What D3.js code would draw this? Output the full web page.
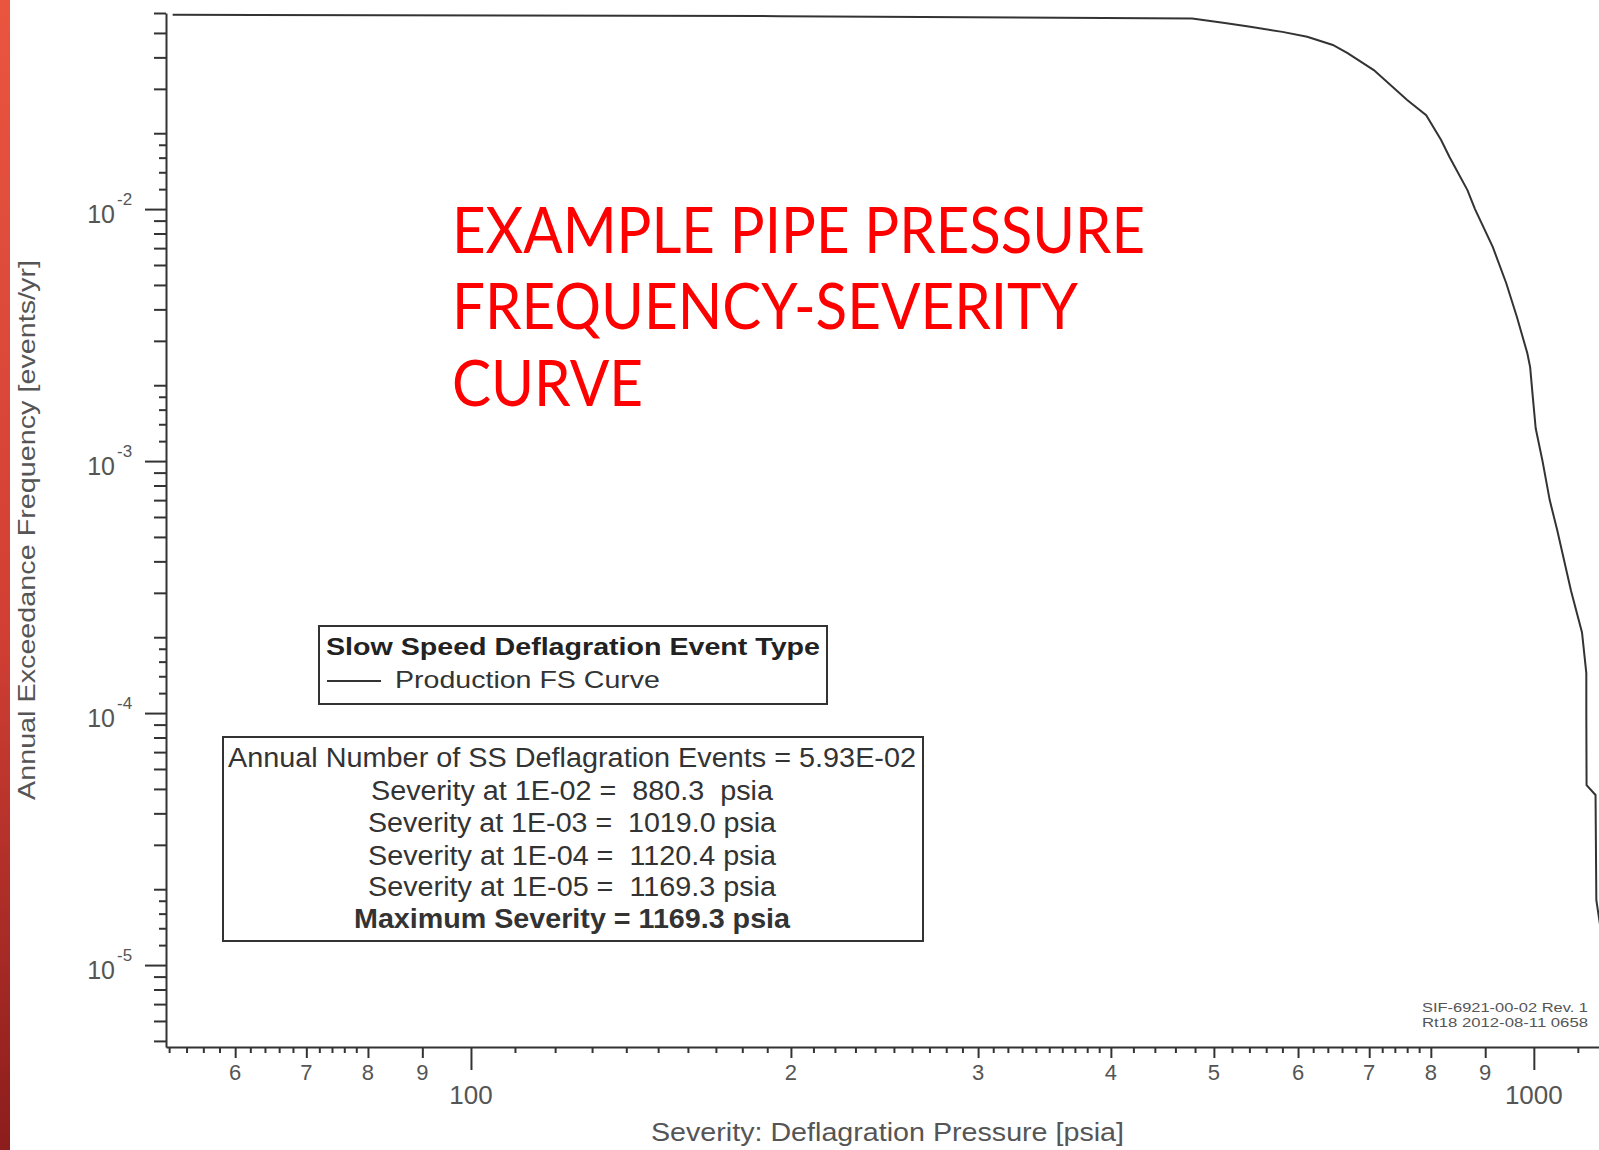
<!DOCTYPE html>
<html>
<head>
<meta charset="utf-8">
<script src="https://cdn.jsdelivr.net/npm/d3@7"></script>
<style>
  body { margin: 0; background: #fff; }
  svg { display: block; }
  text { font-family: "Liberation Sans", Arial, sans-serif; }
</style>
</head>
<body>
<div id="vis-container"></div>
<script>

////////////////////////////////////
/////////////// Data ///////////////
////////////////////////////////////

// curve: pressure [psia] vs exceedance frequency [events/yr]
const pressure = [52.4, 195, 477, 512, 541, 580, 612, 647, 668, 707, 760, 792, 818, 833, 866, 880.3,
    915, 942, 964, 986, 992, 997, 1004, 1019, 1035, 1052, 1084, 1110, 1120.4, 1120.4, 1121, 1143, 1145, 1169.3, 1169.3]
const frequency = [0.0590, 0.0583, 0.0571, 0.0548, 0.0529, 0.0505, 0.0483, 0.0448, 0.0416, 0.0356, 0.0271, 0.0236, 0.0188, 0.0161, 0.0119, 0.01,
    0.00706, 0.00508, 0.00373, 0.00268, 0.00236, 0.00186, 0.00135, 0.001, 0.0007, 0.000532, 0.000305, 0.000209, 0.000144, 0.0001, 0.0000518, 0.0000473, 0.0000181, 0.00001, 0.0000047]

// y axis ticks
const yMajor = [1e-2, 1e-3, 1e-4, 1e-5]
const yMajorExp = ["-2", "-3", "-4", "-5"]
const yMidMult = [2, 3, 4, 5, 6, 7, 8, 9]
const ySmallMult = [1.2, 1.4, 1.6, 1.8]
const yDecades = [1e-6, 1e-5, 1e-4, 1e-3, 1e-2]

// x axis ticks
const xMajor = [100, 1000]
const xMajorLabels = ["100", "1000"]
const xMid = [60, 70, 80, 90, 200, 300, 400, 500, 600, 700, 800, 900]
const xMidLabels = ["6", "7", "8", "9", "2", "3", "4", "5", "6", "7", "8", "9"]
const xMinor = [52, 54, 56, 58, 62, 64, 66, 68, 72, 74, 76, 78,
    110, 120, 130, 140, 150, 160, 170, 180, 190,
    210, 220, 230, 240, 250, 260, 270, 280, 290,
    310, 320, 330, 340, 350, 360, 370, 380, 390,
    420, 440, 460, 480, 520, 540, 560, 580, 620, 640, 660, 680, 720, 740, 760, 780, 1100]

// texts
const titleLines = ["EXAMPLE PIPE PRESSURE", "FREQUENCY-SEVERITY", "CURVE"]
const legendTitle = "Slow Speed Deflagration Event Type"
const legendItem = "Production FS Curve"
const statLines = [
    "Annual Number of SS Deflagration Events = 5.93E-02",
    "Severity at 1E-02 =  880.3  psia",
    "Severity at 1E-03 =  1019.0 psia",
    "Severity at 1E-04 =  1120.4 psia",
    "Severity at 1E-05 =  1169.3 psia",
    "Maximum Severity = 1169.3 psia"
]
const stampLines = ["SIF-6921-00-02 Rev. 1", "Rt18 2012-08-11 0658"]

const curve = pressure.map((p, i) => ({p: p, f: frequency[i]}))

////////////////////////////////////
///////////// SVG Setup ////////////
////////////////////////////////////

const svgWidth = 1599
const svgHeight = 1150

const svg = d3.select('#vis-container')
    .append('svg')
    .attr('width', svgWidth)
    .attr('height', svgHeight)

// slide edge on the left
const grad = svg.append('defs').append('linearGradient')
    .attr('id', 'edge').attr('x1', 0).attr('y1', 0).attr('x2', 0).attr('y2', 1)
grad.append('stop').attr('offset', '0%').attr('stop-color', '#ea5540')
grad.append('stop').attr('offset', '55%').attr('stop-color', '#d13f34')
grad.append('stop').attr('offset', '100%').attr('stop-color', '#8c1d1c')
svg.append('rect')
    .attr('x', 0).attr('y', 0).attr('width', 10).attr('height', svgHeight)
    .attr('fill', 'url(#edge)')

////////////////////////////////////
/////////////// Scales /////////////
////////////////////////////////////

const xScale = d3.scaleLog()
    .domain([51.65, 1200])
    .range([166, 1618])

const yScale = d3.scaleLog()
    .domain([4.73e-6, 0.06])
    .range([1047, 13])

////////////////////////////////////
////////////// Axis ////////////////
////////////////////////////////////

const ink = '#333'

function styleAxis(g, keepDomain) {
    g.selectAll('line').attr('stroke', ink).attr('stroke-width', 2)
    if (keepDomain) g.select('.domain').attr('stroke', ink).attr('stroke-width', 2)
    else g.select('.domain').remove()
}

const yMid = yDecades.flatMap(d => yMidMult.map(m => d * m)).filter(v => v <= 0.06 && v >= 4.73e-6)
const ySmall = yDecades.flatMap(d => ySmallMult.map(m => d * m)).filter(v => v <= 0.06 && v >= 4.73e-6)

svg.append('g')
    .attr('transform', 'translate(166,0)')
    .call(d3.axisLeft(yScale).tickValues(yMajor).tickSize(21).tickSizeOuter(0).tickFormat(''))
    .call(g => styleAxis(g, true))

svg.append('g')
    .attr('transform', 'translate(166,0)')
    .call(d3.axisLeft(yScale).tickValues(yMid).tickSize(12).tickFormat(''))
    .call(g => styleAxis(g, false))

svg.append('g')
    .attr('transform', 'translate(166,0)')
    .call(d3.axisLeft(yScale).tickValues(ySmall).tickSize(7).tickFormat(''))
    .call(g => styleAxis(g, false))

svg.append('g')
    .attr('transform', 'translate(0,1047)')
    .call(d3.axisBottom(xScale).tickValues(xMajor).tickSize(23).tickSizeOuter(0).tickFormat(''))
    .call(g => styleAxis(g, true))

svg.append('g')
    .attr('transform', 'translate(0,1047)')
    .call(d3.axisBottom(xScale).tickValues(xMid).tickSize(11).tickFormat(''))
    .call(g => styleAxis(g, false))

svg.append('g')
    .attr('transform', 'translate(0,1047)')
    .call(d3.axisBottom(xScale).tickValues(xMinor).tickSize(6).tickFormat(''))
    .call(g => styleAxis(g, false))

// tick labels
const labelColor = '#555'

svg.selectAll('.ylab')
    .data(yMajor)
    .join('text')
    .attr('class', 'ylab')
    .attr('x', 115)
    .attr('y', d => yScale(d) + 14)
    .attr('text-anchor', 'end')
    .attr('font-size', 25)
    .attr('fill', labelColor)
    .text('10')

svg.selectAll('.yexp')
    .data(yMajor)
    .join('text')
    .attr('class', 'yexp')
    .attr('x', 117)
    .attr('y', d => yScale(d) - 4)
    .attr('font-size', 17)
    .attr('fill', labelColor)
    .text((d, i) => yMajorExp[i])

svg.selectAll('.xmid')
    .data(xMid)
    .join('text')
    .attr('class', 'xmid')
    .attr('x', d => xScale(d))
    .attr('y', 1080)
    .attr('text-anchor', 'middle')
    .attr('font-size', 22)
    .style('font-family', '"Liberation Sans Narrow", "Liberation Sans", sans-serif')
    .attr('fill', labelColor)
    .text((d, i) => xMidLabels[i])

svg.selectAll('.xmaj')
    .data(xMajor)
    .join('text')
    .attr('class', 'xmaj')
    .attr('x', d => xScale(d))
    .attr('y', 1104)
    .attr('text-anchor', 'middle')
    .attr('font-size', 26)
    .attr('fill', labelColor)
    .text((d, i) => xMajorLabels[i])

// axis titles
svg.append('text')
    .attr('transform', 'translate(35,530) rotate(-90)')
    .attr('text-anchor', 'middle')
    .attr('font-size', 24)
    .attr('textLength', 540)
    .attr('lengthAdjust', 'spacingAndGlyphs')
    .attr('fill', labelColor)
    .text('Annual Exceedance Frequency [events/yr]')

svg.append('text')
    .attr('x', 651)
    .attr('y', 1141)
    .attr('font-size', 25)
    .attr('textLength', 473)
    .attr('lengthAdjust', 'spacingAndGlyphs')
    .attr('fill', labelColor)
    .text('Severity: Deflagration Pressure [psia]')

////////////////////////////////////
///////////// Add Curve ////////////
////////////////////////////////////

const line = d3.line()
    .x(d => xScale(d.p))
    .y(d => yScale(d.f))

svg.append('path')
    .datum(curve)
    .attr('fill', 'none')
    .attr('stroke', ink)
    .attr('stroke-width', 2)
    .attr('d', line)

////////////////////////////////////
///////////// Legends //////////////
////////////////////////////////////

svg.append('rect')
    .attr('x', 319).attr('y', 626).attr('width', 508).attr('height', 78)
    .attr('fill', '#fff').attr('stroke', ink).attr('stroke-width', 2)

svg.append('text')
    .attr('x', 326).attr('y', 655)
    .attr('font-size', 24).attr('font-weight', 'bold')
    .attr('textLength', 494).attr('lengthAdjust', 'spacingAndGlyphs')
    .attr('fill', '#222')
    .text(legendTitle)

svg.append('line')
    .attr('x1', 327).attr('x2', 381).attr('y1', 681).attr('y2', 681)
    .attr('stroke', ink).attr('stroke-width', 2)

svg.append('text')
    .attr('x', 395).attr('y', 688)
    .attr('font-size', 24)
    .attr('textLength', 265).attr('lengthAdjust', 'spacingAndGlyphs')
    .attr('fill', '#333')
    .text(legendItem)

svg.append('rect')
    .attr('x', 223).attr('y', 737).attr('width', 700).attr('height', 204)
    .attr('fill', '#fff').attr('stroke', ink).attr('stroke-width', 2)

const statY = [767, 800, 832, 865, 896, 928]
const statW = [688, 402, 408, 408, 408, 436]

svg.selectAll('.stat')
    .data(statLines)
    .join('text')
    .attr('class', 'stat')
    .attr('x', 572)
    .attr('y', (d, i) => statY[i])
    .attr('text-anchor', 'middle')
    .attr('font-size', 27)
    .attr('font-weight', (d, i) => i == statLines.length - 1 ? 'bold' : 'normal')
    .attr('textLength', (d, i) => statW[i])
    .attr('lengthAdjust', 'spacingAndGlyphs')
    .style('white-space', 'pre')
    .attr('fill', '#333')
    .text(d => d)

// stamp bottom right
svg.selectAll('.stamp')
    .data(stampLines)
    .join('text')
    .attr('class', 'stamp')
    .attr('x', 1588)
    .attr('y', (d, i) => 1012 + i * 15)
    .attr('text-anchor', 'end')
    .attr('font-size', 13)
    .attr('textLength', 166)
    .attr('lengthAdjust', 'spacingAndGlyphs')
    .attr('fill', '#555')
    .text(d => d)

////////////////////////////////////
////////////// Title ///////////////
////////////////////////////////////

const titleY = [253, 329, 406]
const titleW = [693, 626, 191]

svg.selectAll('.title')
    .data(titleLines)
    .join('text')
    .attr('class', 'title')
    .attr('x', 452)
    .attr('y', (d, i) => titleY[i])
    .attr('font-size', 64)
    .style('font-family', 'Lato, "Noto Sans", sans-serif')
    .attr('textLength', (d, i) => titleW[i])
    .attr('lengthAdjust', 'spacingAndGlyphs')
    .attr('fill', '#f00')
    .text(d => d)

</script>
</body>
</html>
